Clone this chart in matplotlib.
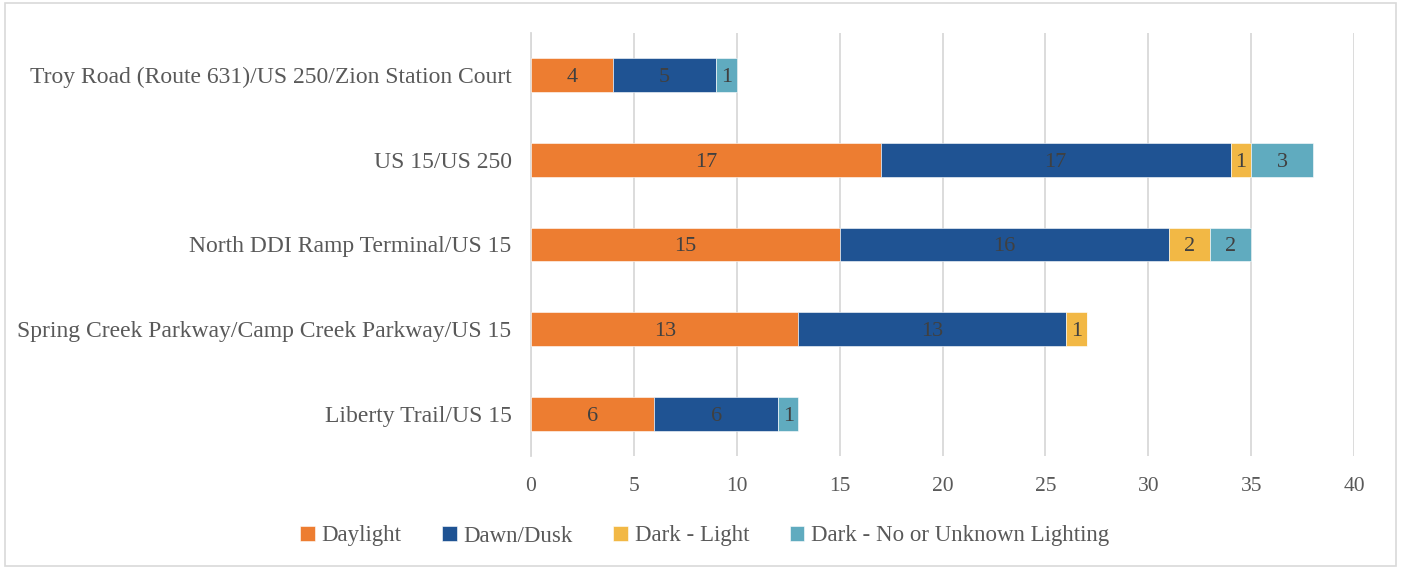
import matplotlib
matplotlib.use("Agg")
import matplotlib.pyplot as plt
from matplotlib.patches import Rectangle

categories = [
    "Liberty Trail/US 15",
    "Spring Creek Parkway/Camp Creek Parkway/US 15",
    "North DDI Ramp Terminal/US 15",
    "US 15/US 250",
    "Troy Road (Route 631)/US 250/Zion Station Court",
]
series_names = ["Daylight", "Dawn/Dusk", "Dark - Light", "Dark - No or Unknown Lighting"]
daylight = [6, 13, 15, 17, 4]
dawn_dusk = [6, 13, 16, 17, 5]
dark_light = [0, 1, 2, 1, 0]
dark_unknown = [1, 0, 2, 3, 1]
x_ticks = [0, 5, 10, 15, 20, 25, 30, 35, 40]

colors = ["#ED7D31", "#1F5393", "#F2B845", "#60ABBF"]
series = [daylight, dawn_dusk, dark_light, dark_unknown]

plt.rcParams['font.family'] = ['Liberation Serif', 'DejaVu Serif']

fig = plt.figure(figsize=(14.01, 5.71), dpi=100)
ax = fig.add_axes([531/1401, 1 - 456/571, (1354-531)/1401, (456-33)/571])

ypos = list(range(len(categories)))
left = [0]*len(categories)
handles = []
for name, vals, c in zip(series_names, series, colors):
    bars = ax.barh(ypos, vals, left=left, height=0.4, color=c, edgecolor="white", linewidth=0.4, label=name, zorder=3)
    handles.append(bars)
    for y, v, l in zip(ypos, vals, left):
        if v > 0:
            ax.text(l + v/2, y, str(v), ha="center", va="center_baseline", fontsize=16, color="#404040", zorder=4)
    left = [a + b for a, b in zip(left, vals)]

ax.set_xlim(0, 40)
ax.set_ylim(-0.5, len(categories) - 0.5)
ax.set_xticks(x_ticks)
ax.set_xticklabels([str(t) for t in x_ticks], fontsize=15.5, color="#595959")
ax.set_yticks(ypos)
ax.set_yticklabels(categories, fontsize=17, color="#595959")
ax.tick_params(axis="both", length=0)
ax.tick_params(axis="x", pad=15)
ax.tick_params(axis="y", pad=14)
ax.grid(axis="x", color="#D9D9D9", linewidth=1.3, zorder=0)
for s in ["top", "right", "bottom"]:
    ax.spines[s].set_visible(False)
ax.spines["left"].set_color("#D9D9D9")
ax.spines["left"].set_linewidth(1.3)

fig.legend(handles=handles, labels=series_names, loc="center", bbox_to_anchor=(0.503, 1 - 536/571),
           ncol=4, frameon=False, fontsize=16.5, labelcolor="#595959",
           handlelength=0.65, handleheight=0.65, handletextpad=0.3, columnspacing=1.75)

fig.patches.append(Rectangle((5/1401, 1 - 566/571), 1391/1401, 563/571, transform=fig.transFigure,
                             fill=False, edgecolor="#D9D9D9", linewidth=1.2))

fig.savefig("out.png", dpi=100)
